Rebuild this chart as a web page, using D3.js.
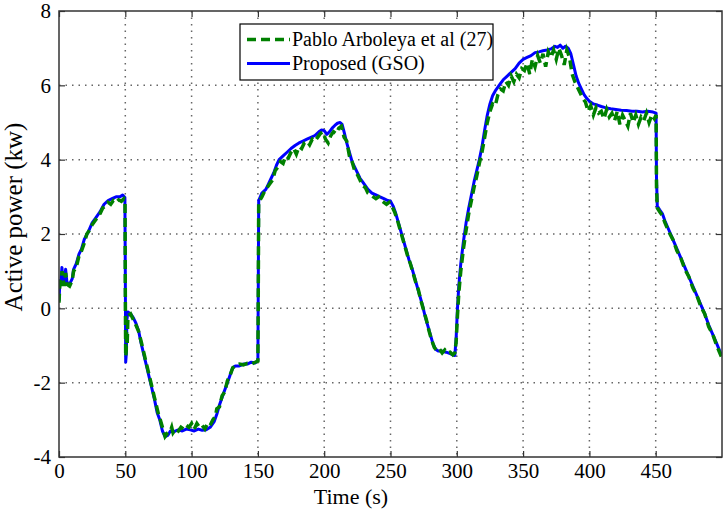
<html>
<head>
<meta charset="utf-8">
<script src="https://d3js.org/d3.v7.min.js"></script>
</head>

<style>
    body {
        margin: 0;
        background: white;
    }

    text {
        font-family: "Liberation Serif", "DejaVu Serif", serif;
        fill: black;
    }

    .grid line {
        stroke: #666;
        stroke-width: 1.5;
        stroke-dasharray: 1.5, 5;
    }
</style>

<body>
    <svg id="chart"></svg>
    <script>
        // Proposed (GSO) - [time (s), active power (kw)]
        var gsoSeries = [
            [0, 0.2], [0.7, 0.75], [1.5, 0.7], [2.2, 1.1], [3, 0.75], [4, 0.7], [5, 1.05], [6, 0.7], [8, 0.65], [10, 0.8],
            [11, 1.05], [13, 1.2], [15, 1.45], [17, 1.6], [19, 1.85], [22, 2.05], [25, 2.3], [28, 2.45], [31, 2.6], [34, 2.8],
            [37, 2.9], [40, 2.95], [43, 3.0], [46, 3.0], [48, 3.05], [49.7, 2.98], [50, 1.0], [50.3, -1.45], [50.8, -1.2], [51.2, -0.3],
            [52, -0.1], [54, -0.15], [56, -0.25], [58, -0.4], [60, -0.6], [62, -0.95], [64, -1.25], [66, -1.55], [68, -1.85], [70, -2.15],
            [72, -2.45], [74, -2.8], [76, -3.0], [78, -3.3], [80, -3.45], [82, -3.42], [84, -3.3], [86, -3.32], [88, -3.3], [90, -3.27],
            [93, -3.3], [96, -3.25], [99, -3.27], [102, -3.3], [105, -3.25], [108, -3.28], [111, -3.27], [114, -3.2], [117, -3.05], [119, -2.85],
            [121, -2.6], [123, -2.4], [125, -2.2], [127, -2.0], [129, -1.8], [131, -1.6], [133, -1.55], [136, -1.55], [139, -1.5], [142, -1.5],
            [145, -1.45], [148, -1.47], [150, -1.4], [150.3, 0.7], [150.6, 2.9], [153, 3.1], [156, 3.2], [158, 3.35], [160, 3.5], [162, 3.65],
            [164, 3.85], [166, 4.0], [169, 4.1], [172, 4.2], [175, 4.3], [178, 4.38], [181, 4.45], [184, 4.5], [187, 4.55], [190, 4.6],
            [193, 4.65], [196, 4.75], [198, 4.8], [200, 4.78], [202, 4.68], [204, 4.75], [206, 4.85], [208, 4.92], [210, 4.98], [212, 5.0],
            [213.5, 4.95], [215, 4.75], [217, 4.45], [219, 4.2], [221, 3.95], [223, 3.8], [225, 3.65], [227, 3.5], [229, 3.4], [231, 3.3],
            [233, 3.2], [236, 3.1], [239, 3.05], [242, 3.0], [245, 2.95], [248, 2.9], [250, 2.88], [252, 2.75], [254, 2.55], [256, 2.3],
            [258, 2.05], [260, 1.8], [262, 1.55], [264, 1.3], [266, 1.1], [268, 0.85], [270, 0.6], [272, 0.35], [274, 0.1], [276, -0.2],
            [278, -0.45], [280, -0.7], [282, -0.95], [284, -1.1], [286, -1.15], [289, -1.15], [292, -1.18], [295, -1.22], [297, -1.25], [298.5, -1.27],
            [299.5, -0.8], [300.5, 0.0], [301.5, 0.6], [303, 1.2], [305, 1.8], [307, 2.3], [309, 2.7], [311, 3.05], [313, 3.4], [315, 3.7],
            [317, 4.0], [319, 4.35], [321, 4.8], [323, 5.2], [325, 5.5], [327, 5.72], [329, 5.85], [331, 5.95], [333, 6.05], [335, 6.15],
            [338, 6.25], [341, 6.35], [344, 6.45], [347, 6.6], [350, 6.7], [353, 6.75], [356, 6.8], [359, 6.88], [362, 6.9], [365, 6.93],
            [368, 6.95], [371, 6.98], [374, 7.05], [376, 7.02], [378, 7.08], [380, 7.0], [382, 7.05], [384, 7.0], [386, 6.85], [388, 6.55],
            [390, 6.25], [392, 6.05], [394, 5.9], [396, 5.75], [398, 5.65], [400, 5.57], [403, 5.5], [406, 5.47], [409, 5.43], [412, 5.4],
            [416, 5.37], [420, 5.35], [424, 5.33], [428, 5.32], [432, 5.3], [436, 5.3], [440, 5.28], [444, 5.3], [448, 5.28], [450.3, 5.25],
            [450.6, 3.5], [451.2, 2.75], [453, 2.65], [455, 2.55], [457, 2.35], [460, 2.1], [463, 1.85], [466, 1.6], [469, 1.35], [472, 1.1],
            [475, 0.85], [478, 0.6], [481, 0.35], [484, 0.1], [487, -0.15], [490, -0.45], [493, -0.7], [496, -0.95], [499.5, -1.25]
        ];

        // Pablo Arboleya et al (27) - [time (s), active power (kw)]
        var pabloSeries = [
            [0, 0.15], [0.8, 0.8], [1.5, 0.6], [2.3, 1.0], [3, 0.8], [4, 0.6], [5, 0.95], [6, 0.65], [8, 0.6], [10, 0.75],
            [11, 1.0], [13, 1.1], [15, 1.4], [17, 1.55], [19, 1.75], [21, 2.0], [23, 2.1], [25, 2.25], [27, 2.35], [29, 2.45],
            [31, 2.55], [33, 2.7], [35, 2.75], [37, 2.85], [39, 2.8], [41, 2.9], [43, 2.85], [45, 2.92], [47, 2.88], [49, 2.95],
            [49.8, 2.9], [50, 0.5], [50.3, -1.3], [50.7, -1.15], [51, -0.6], [51.4, -1.0], [52, -0.2], [54, -0.15], [56, -0.3], [58, -0.45],
            [60, -0.62], [62, -0.9], [64, -1.2], [66, -1.5], [68, -1.8], [70, -2.1], [72, -2.4], [74, -2.7], [75, -2.85], [76, -2.95],
            [78, -3.2], [80, -3.45], [82, -3.35], [84, -3.3], [85, -3.2], [86, -3.35], [88, -3.25], [90, -3.3], [92, -3.2], [94, -3.25],
            [96, -3.15], [98, -3.2], [100, -3.1], [102, -3.25], [104, -3.1], [106, -3.2], [108, -3.15], [110, -3.25], [112, -3.1], [114, -3.15],
            [116, -3.0], [118, -2.9], [119, -2.7], [121, -2.65], [123, -2.35], [125, -2.25], [127, -1.95], [129, -1.8], [131, -1.6], [133, -1.55],
            [136, -1.5], [139, -1.52], [142, -1.48], [145, -1.5], [148, -1.45], [150, -1.42], [150.3, 0.6], [150.6, 2.85], [153, 3.0], [155, 3.15],
            [157, 3.25], [159, 3.35], [161, 3.45], [163, 3.7], [165, 3.8], [167, 3.95], [169, 3.9], [171, 4.1], [173, 4.05], [175, 4.2],
            [177, 4.3], [179, 4.15], [181, 4.35], [183, 4.3], [185, 4.45], [187, 4.5], [189, 4.4], [191, 4.55], [193, 4.5], [195, 4.6],
            [197, 4.7], [199, 4.75], [201, 4.55], [203, 4.45], [205, 4.65], [207, 4.75], [209, 4.7], [211, 4.85], [213, 4.9], [215, 4.6],
            [217, 4.5], [219, 4.1], [221, 3.95], [223, 3.7], [225, 3.6], [227, 3.45], [229, 3.3], [231, 3.25], [233, 3.1], [235, 3.05],
            [237, 3.0], [239, 2.95], [241, 3.0], [243, 2.9], [245, 2.85], [247, 2.8], [249, 2.85], [251, 2.75], [253, 2.6], [255, 2.4],
            [257, 2.15], [259, 1.9], [261, 1.65], [263, 1.4], [265, 1.2], [267, 0.95], [269, 0.7], [271, 0.5], [273, 0.2], [275, -0.05],
            [277, -0.3], [279, -0.6], [281, -0.85], [283, -1.05], [285, -1.15], [287, -1.1], [289, -1.2], [291, -1.12], [293, -1.2], [295, -1.18],
            [297, -1.25], [298.5, -1.2], [299.5, -0.9], [300.5, -0.2], [301.5, 0.4], [303, 1.0], [305, 1.6], [307, 2.1], [309, 2.55], [311, 2.9],
            [313, 3.25], [315, 3.55], [317, 3.9], [319, 4.2], [321, 4.6], [323, 5.0], [325, 5.3], [327, 5.5], [329, 5.45], [331, 5.75],
            [333, 5.9], [335, 5.85], [337, 6.1], [339, 6.0], [341, 6.25], [343, 6.1], [345, 6.3], [347, 6.2], [349, 6.45], [351, 6.4],
            [353, 6.6], [355, 6.3], [357, 6.7], [359, 6.5], [361, 6.8], [363, 6.6], [365, 6.85], [367, 6.5], [369, 6.9], [371, 6.75],
            [373, 6.95], [375, 6.7], [377, 7.0], [379, 6.8], [381, 6.55], [383, 6.95], [385, 6.75], [387, 6.3], [389, 6.1], [391, 5.95],
            [393, 5.8], [395, 5.65], [397, 5.55], [399, 5.3], [401, 5.45], [403, 5.2], [405, 5.4], [407, 5.25], [409, 5.3], [411, 5.1],
            [413, 5.35], [415, 5.15], [417, 5.25], [419, 5.05], [421, 5.3], [423, 4.95], [425, 5.2], [427, 5.05], [429, 4.9], [431, 5.25],
            [433, 5.0], [435, 5.2], [437, 4.95], [439, 5.15], [441, 5.05], [443, 5.25], [445, 5.0], [447, 5.2], [449, 5.1], [450.3, 5.2],
            [450.6, 3.3], [451.2, 2.7], [453, 2.6], [455, 2.5], [457, 2.3], [460, 2.05], [463, 1.85], [466, 1.55], [469, 1.35], [472, 1.05],
            [475, 0.85], [478, 0.55], [481, 0.35], [484, 0.05], [487, -0.15], [490, -0.5], [493, -0.7], [496, -1.0], [499.5, -1.3]
        ];

        var xTicks = [0, 50, 100, 150, 200, 250, 300, 350, 400, 450];
        var yTicks = [-4, -2, 0, 2, 4, 6, 8];
        var legendLabels = ["Pablo Arboleya et al (27)", "Proposed (GSO)"];

        var margin = { top: 11, right: 3, bottom: 53, left: 59 },
            width = 725 - margin.left - margin.right,
            height = 510 - margin.top - margin.bottom;

        var svg = d3.select("#chart")
            .attr("width", 725)
            .attr("height", 510)
            .append("g")
            .attr("transform", "translate(" + margin.left + "," + margin.top + ")");

        var x = d3.scaleLinear().domain([0, 500]).range([0, width]);
        var y = d3.scaleLinear().domain([-4, 8]).range([height, 0]);

        // dotted grid
        svg.append("g")
            .attr("class", "grid")
            .selectAll("line.v")
            .data(xTicks.filter(d => d > 0))
            .enter()
            .append("line")
            .attr("x1", d => x(d)).attr("x2", d => x(d))
            .attr("y1", 0).attr("y2", height);

        svg.select(".grid")
            .selectAll("line.h")
            .data(yTicks.filter(d => d > -4 && d < 8))
            .enter()
            .append("line")
            .attr("x1", 0).attr("x2", width)
            .attr("y1", d => y(d)).attr("y2", d => y(d));

        svg.append("clipPath")
            .attr("id", "clip")
            .append("rect")
            .attr("width", width)
            .attr("height", height);

        var line = d3.line()
            .x(d => x(d[0]))
            .y(d => y(d[1]));

        // blue underneath, green dashed on top
        svg.append("path")
            .datum(gsoSeries)
            .attr("clip-path", "url(#clip)")
            .attr("fill", "none")
            .attr("stroke", "#0000ff")
            .attr("stroke-width", 3)
            .attr("stroke-linejoin", "round")
            .attr("d", line);

        svg.append("path")
            .datum(pabloSeries)
            .attr("clip-path", "url(#clip)")
            .attr("fill", "none")
            .attr("stroke", "#008000")
            .attr("stroke-width", 3.5)
            .attr("stroke-dasharray", "9,5")
            .attr("d", line);

        // axes, ticks pointing inward on all four sides
        function styleAxis(g) {
            g.select(".domain").remove();
            g.selectAll(".tick line").attr("stroke", "#333").attr("stroke-width", 1.2);
            g.selectAll(".tick text")
                .style("font-family", "'Liberation Serif', serif")
                .style("font-size", "21px")
                .attr("fill", "black");
        }

        var plainFormat = function (d) { return String(d); };

        svg.append("g")
            .attr("transform", "translate(0," + height + ")")
            .call(d3.axisBottom(x).tickValues(xTicks).tickSizeInner(-6).tickPadding(6).tickFormat(plainFormat))
            .call(styleAxis);

        svg.append("g")
            .call(d3.axisTop(x).tickValues(xTicks).tickSizeInner(-6).tickFormat(""))
            .call(styleAxis);

        svg.append("g")
            .call(d3.axisLeft(y).tickValues(yTicks).tickSizeInner(-6).tickPadding(8).tickFormat(plainFormat))
            .call(styleAxis);

        svg.append("g")
            .attr("transform", "translate(" + width + ",0)")
            .call(d3.axisRight(y).tickValues(yTicks).tickSizeInner(-6).tickFormat(""))
            .call(styleAxis);

        svg.append("rect")
            .attr("width", width)
            .attr("height", height)
            .attr("fill", "none")
            .attr("stroke", "#333")
            .attr("stroke-width", 1.5);

        // axis labels
        svg.append("text")
            .attr("x", 292)
            .attr("y", height + 47)
            .attr("text-anchor", "middle")
            .style("font-size", "22px")
            .text("Time (s)");

        svg.append("text")
            .attr("transform", "translate(-37," + 206 + ") rotate(-90)")
            .attr("text-anchor", "middle")
            .style("font-size", "25px")
            .text("Active power (kw)");

        // legend
        var legend = svg.append("g")
            .attr("transform", "translate(" + (240 - margin.left) + "," + (24 - margin.top) + ")");

        legend.append("rect")
            .attr("width", 253)
            .attr("height", 56)
            .attr("fill", "white")
            .attr("stroke", "black")
            .attr("stroke-width", 1.2);

        var legendColors = ["#008000", "#0000ff"];
        var legendDash = ["9,5", null];

        legendLabels.forEach(function (label, i) {
            var ly = 15.5 + i * 24;
            legend.append("line")
                .attr("x1", 7).attr("x2", 50)
                .attr("y1", ly).attr("y2", ly)
                .attr("stroke", legendColors[i])
                .attr("stroke-width", i == 0 ? 3.5 : 3)
                .attr("stroke-dasharray", legendDash[i]);
            legend.append("text")
                .attr("x", 52)
                .attr("y", ly + 6)
                .style("font-size", "20px")
                .text(label);
        });
    </script>
</body>

</html>
